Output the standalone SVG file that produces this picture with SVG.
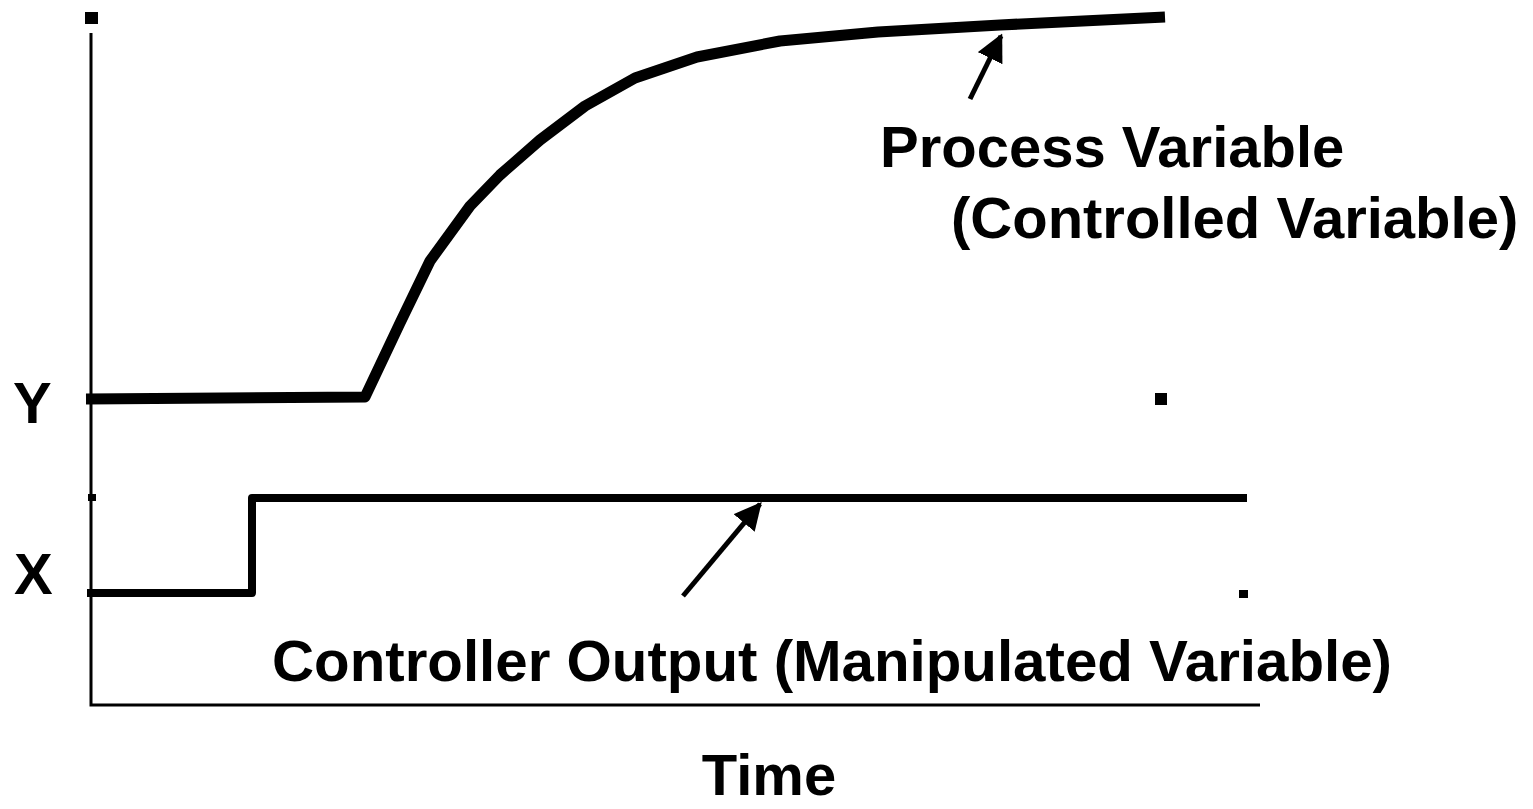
<svg xmlns="http://www.w3.org/2000/svg" width="1533" height="809" viewBox="0 0 1533 809">
<style>
.lbl{font-family:"Liberation Sans",Arial,sans-serif;font-weight:bold;font-size:58px;fill:#000}
.axis{stroke:#000;stroke-width:3;fill:none}
.pv{stroke:#000;stroke-width:11;fill:none;stroke-linejoin:round}
.co{stroke:#000;stroke-width:8;fill:none;stroke-linejoin:round}
.arr{stroke:#000;stroke-width:5;fill:none}
</style>
<defs>
<marker id="ah" viewBox="0 0 10 10" refX="9" refY="5" markerWidth="5.5" markerHeight="5.5" orient="auto" markerUnits="strokeWidth">
<path d="M0,0 L10,5 L0,10 z" fill="#000"/>
</marker>
</defs>
<g id="axes">
<path class="axis" d="M91,33 V705 H1260"/>
<rect x="85" y="12" width="13" height="12" fill="#000"/>
<rect x="88" y="494" width="8" height="7" fill="#000"/>
<rect x="1155" y="393" width="12" height="12" fill="#000"/>
<rect x="1239" y="590" width="9" height="8" fill="#000"/>
</g>
<g id="process-variable-curve">
<path class="pv" d="M86,399 L365,397 L400,323 L430,261 L470,206 L500,175 L540,140 L585,106 L635,78 L697,57 L780,41 L878,32 L1000,25 L1165,17"/>
</g>
<g id="controller-output-line">
<path class="co" d="M87,593 H252 V498 H1247"/>
</g>
<g id="connectors">
<line class="arr" x1="970" y1="99" x2="1001" y2="36" marker-end="url(#ah)"/>
<line class="arr" x1="683" y1="596" x2="760" y2="504" marker-end="url(#ah)"/>
</g>
<g id="label-pv">
<text class="lbl" x="880" y="167">Process Variable</text>
<text class="lbl" x="951" y="238">(Controlled Variable)</text>
</g>
<g id="label-co">
<text class="lbl" x="272" y="681" textLength="1120" lengthAdjust="spacingAndGlyphs">Controller Output (Manipulated Variable)</text>
</g>
<g id="label-y"><text class="lbl" x="13" y="423">Y</text></g>
<g id="label-x"><text class="lbl" x="14" y="594">X</text></g>
<g id="label-time"><text class="lbl" x="769" y="795" text-anchor="middle">Time</text></g>
</svg>
